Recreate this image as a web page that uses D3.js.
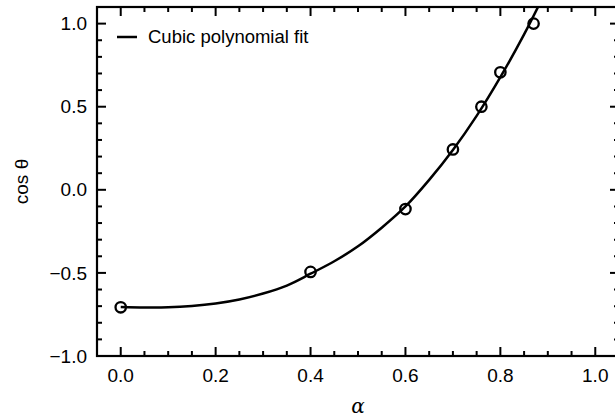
<!DOCTYPE html>
<html>
<head>
<meta charset="utf-8">
<script src="https://cdn.jsdelivr.net/npm/d3@7"></script>
<style>
  body { margin: 0; background: #fff; }
  svg { display: block; font-family: "Liberation Sans", Arial, sans-serif; }
</style>
</head>
<body>
<div id="chart"></div>
<script>
// measured points (alpha, cos theta)
const pointAlpha = [0.0, 0.4, 0.6, 0.7, 0.76, 0.8, 0.87];
const pointCos = [-0.707, -0.494, -0.116, 0.243, 0.5, 0.707, 1.0];

// cubic fit curve
const fitAlpha = [0, 0.05, 0.1, 0.15, 0.2, 0.25, 0.3, 0.35, 0.4, 0.45, 0.5, 0.55, 0.6, 0.65, 0.7, 0.75, 0.8, 0.85, 0.9];
const fitCos = [-0.705, -0.708, -0.707, -0.699, -0.684, -0.66, -0.624, -0.576, -0.505, -0.43, -0.34, -0.228, -0.1, 0.06, 0.24, 0.445, 0.678, 0.935, 1.22];

const xTicks = [0, 0.2, 0.4, 0.6, 0.8, 1.0];
const yTicks = [-1.0, -0.5, 0.0, 0.5, 1.0];
const legendLabel = "Cubic polynomial fit";

const width = 615, height = 418;
const margin = { top: 7, right: -4, bottom: 62, left: 97 };
const plotW = width - margin.left - margin.right;
const plotH = height - margin.top - margin.bottom;

const svg = d3.select("#chart").append("svg")
  .attr("width", width)
  .attr("height", height);

const x = d3.scaleLinear().domain([-0.05, 1.05]).range([0, plotW]);
const y = d3.scaleLinear().domain([-1.0, 1.1]).range([plotH, 0]);

const g = svg.append("g").attr("transform", `translate(${margin.left},${margin.top})`);

g.append("clipPath").attr("id", "clip")
  .append("rect").attr("width", plotW).attr("height", plotH);

const fmt = d3.format(".1f");
const xMinor = d3.range(0, 1.0001, 0.05);
const yMinor = d3.range(-1.0, 1.1001, 0.1);
const isMajorX = (v) => xTicks.some((t) => Math.abs(t - v) < 1e-6);
const isMajorY = (v) => yTicks.some((t) => Math.abs(t - v) < 1e-6);

// inward ticks on all four sides
const ticks = g.append("g").attr("stroke", "#000").attr("stroke-width", 2);
xMinor.forEach((v) => {
  const len = isMajorX(v) ? 9 : 5;
  ticks.append("line").attr("x1", x(v)).attr("x2", x(v)).attr("y1", plotH).attr("y2", plotH - len);
  ticks.append("line").attr("x1", x(v)).attr("x2", x(v)).attr("y1", 0).attr("y2", len);
});
yMinor.forEach((v) => {
  const len = isMajorY(v) ? 9 : 5;
  ticks.append("line").attr("y1", y(v)).attr("y2", y(v)).attr("x1", 0).attr("x2", len);
  ticks.append("line").attr("y1", y(v)).attr("y2", y(v)).attr("x1", plotW).attr("x2", plotW - len);
});

// tick labels
g.selectAll(".xl")
  .data(xTicks)
  .enter()
  .append("text")
  .attr("x", (d) => x(d))
  .attr("y", plotH + 26)
  .attr("text-anchor", "middle")
  .style("font-size", "19px")
  .text(fmt);

g.selectAll(".yl")
  .data(yTicks)
  .enter()
  .append("text")
  .attr("x", -10)
  .attr("y", (d) => y(d))
  .attr("dy", "0.35em")
  .attr("text-anchor", "end")
  .style("font-size", "19px")
  .text(fmt);

// frame
g.append("rect")
  .attr("width", plotW)
  .attr("height", plotH)
  .attr("fill", "none")
  .attr("stroke", "#000")
  .attr("stroke-width", 2.2);

// fit line
const line = d3.line()
  .x((d, i) => x(fitAlpha[i]))
  .y((d) => y(d))
  .curve(d3.curveCatmullRom);

g.append("path")
  .datum(fitCos)
  .attr("clip-path", "url(#clip)")
  .attr("fill", "none")
  .attr("stroke", "#000")
  .attr("stroke-width", 2.5)
  .attr("d", line);

// data markers
g.selectAll(".pt")
  .data(pointCos)
  .enter()
  .append("circle")
  .attr("cx", (d, i) => x(pointAlpha[i]))
  .attr("cy", (d) => y(d))
  .attr("r", 5.2)
  .attr("fill", "none")
  .attr("stroke", "#000")
  .attr("stroke-width", 2.3);

// legend
const leg = g.append("g").attr("transform", "translate(20,30)");
leg.append("line")
  .attr("x1", 0).attr("x2", 20)
  .attr("stroke", "#000").attr("stroke-width", 2.5);
leg.append("text")
  .attr("x", 31).attr("dy", "0.35em")
  .style("font-size", "18.5px")
  .text(legendLabel);

// axis titles
svg.append("text")
  .attr("x", margin.left + x(0.5))
  .attr("y", 413)
  .attr("text-anchor", "middle")
  .style("font-family", "'DejaVu Serif', serif")
  .style("font-style", "italic")
  .style("font-size", "20px")
  .text("α");

svg.append("text")
  .attr("transform", `translate(28,${margin.top + plotH / 2}) rotate(-90)`)
  .attr("text-anchor", "middle")
  .style("font-size", "19px")
  .text("cos θ");
</script>
</body>
</html>
